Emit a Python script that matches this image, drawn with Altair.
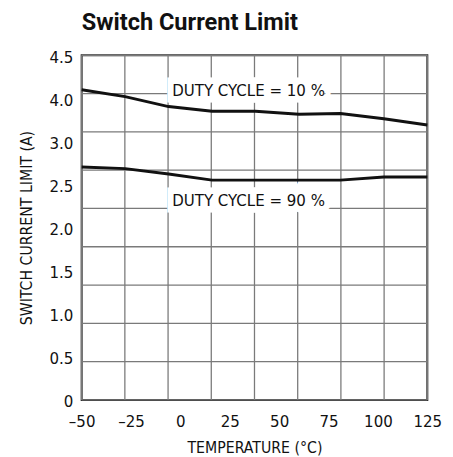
import altair as alt
import pandas as pd

# ---- data ----
temps = [-50, -28, -6, 16, 38, 60, 81, 103, 125]
dc10 = [4.05, 3.96, 3.83, 3.77, 3.77, 3.73, 3.74, 3.67, 3.59]
dc90 = [3.04, 3.02, 2.95, 2.87, 2.87, 2.87, 2.87, 2.91, 2.91]
series_names = ["DUTY CYCLE = 10 %", "DUTY CYCLE = 90 %"]
label_temp = [34.5, 34.5]
label_val = [4.03, 2.60]

x_ticks = [-50, -25, 0, 25, 50, 75, 100, 125]
y_tick_labels = ["4.5", "4.0", "3.0", "2.5", "2.0", "1.5", "1.0", "0.5", "0"]
grid_y = [0, 0.5, 1.0, 1.5, 2.0, 2.5, 3.0, 3.5, 4.0, 4.5]
n_xgrid = 8  # vertical grid divisions

FONT = "'DejaVu Sans Condensed', 'Roboto Condensed', 'Arial Narrow', Roboto"
TFONT = "Roboto"

rows = []
for t, a, b in zip(temps, dc10, dc90):
    rows.append({"t": t, "v": a, "s": series_names[0]})
    rows.append({"t": t, "v": b, "s": series_names[1]})
df = pd.DataFrame(rows)

gx = [-50 + i * 175 / n_xgrid for i in range(n_xgrid + 1)]
df_gx = pd.DataFrame({"gx": gx})
df_gy = pd.DataFrame({"gy": grid_y})
df_lab = pd.DataFrame({"t": label_temp, "v": label_val, "s": series_names})

n_lab = len(y_tick_labels)
y_vals = [4.5 - i * 4.5 / (n_lab - 1) for i in range(n_lab)]
step = 4.5 / (n_lab - 1)
lab_arr = "[" + ",".join("'%s'" % s for s in y_tick_labels) + "]"

xs = alt.Scale(domain=[-50, 125], nice=False, zero=False)
ys = alt.Scale(domain=[0, 4.5], nice=False)

x_axis = alt.Axis(values=x_ticks, grid=False, ticks=False, domain=False,
                  labelFont=FONT, labelFontSize=17, labelColor="#111",
                  labelPadding=14, labelFlush=False, labelOverlap=False,
                  title="TEMPERATURE (°C)", titleFont=FONT,
                  titleFontSize=16, titleFontWeight="normal", titleColor="#111",
                  titlePadding=11,
                  labelExpr="datum.value < 0 ? '–' + abs(datum.value) : datum.label")
y_axis = alt.Axis(values=y_vals, grid=False, ticks=False, domain=False,
                  labelFont=FONT, labelFontSize=17, labelColor="#111",
                  labelPadding=9, labelOffset=2, labelFlush=False,
                  labelOverlap=False,
                  labelExpr=lab_arr + "[round((4.5 - datum.value) / %f)]" % step,
                  title="SWITCH CURRENT LIMIT (A)", titleFont=FONT,
                  titleFontSize=16, titleFontWeight="normal", titleColor="#111",
                  titlePadding=15)

vgrid = alt.Chart(df_gx).mark_rule(color="#7a7a7a", strokeWidth=1.3).encode(
    x=alt.X("gx:Q", scale=xs, axis=x_axis))
hgrid = alt.Chart(df_gy).mark_rule(color="#7a7a7a", strokeWidth=1.3).encode(
    y=alt.Y("gy:Q", scale=ys, axis=y_axis))

halo = alt.Chart(df_lab).mark_text(font=FONT, fontSize=17, stroke="white",
                                   strokeWidth=13, strokeJoin="miter",
                                   fill="white").encode(
    x=alt.X("t:Q", scale=xs), y=alt.Y("v:Q", scale=ys), text="s:N")
text = alt.Chart(df_lab).mark_text(font=FONT, fontSize=17, color="#111").encode(
    x=alt.X("t:Q", scale=xs), y=alt.Y("v:Q", scale=ys), text="s:N")

lines = alt.Chart(df).mark_line(color="#111", strokeWidth=3).encode(
    x=alt.X("t:Q", scale=xs), y=alt.Y("v:Q", scale=ys), detail="s:N")

chart = alt.layer(vgrid, hgrid, halo, lines, text).properties(
    width=352, height=351,
    autosize=alt.AutoSizeParams(type="none"),
    padding={"left": 75, "top": 44, "right": 18, "bottom": 54},
    title=alt.TitleParams("Switch Current Limit", font=TFONT, fontSize=24,
                          fontWeight="bold", anchor="start", color="#111",
                          frame="group", offset=14),
).configure_view(stroke="#222", strokeWidth=2)

chart.save("out.html", embed_options={"renderer": "svg", "actions": False})
